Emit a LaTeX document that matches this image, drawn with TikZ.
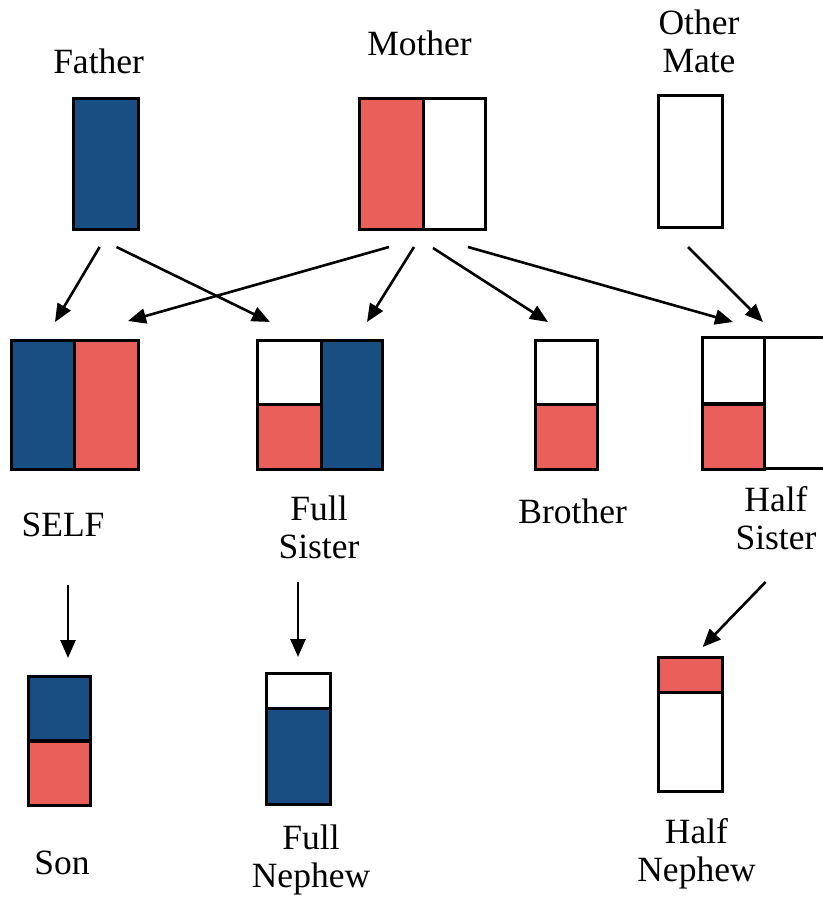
\documentclass[tikz,border=0pt]{standalone}
\usepackage{fontspec}
\setmainfont{Liberation Serif}
\usetikzlibrary{arrows.meta}
\definecolor{blu}{HTML}{184E82}
\definecolor{rd}{HTML}{EB5F5A}
\tikzset{
  part/.style={draw=black, line width=3pt, inner sep=0pt, outer sep=0pt, rectangle},
  lbl/.style={font=\fontsize{35.5}{38}\selectfont, align=center, inner sep=0pt},
  arr/.style={line width=2.6pt, -{Triangle[length=18pt,width=15pt]}},
}
\begin{document}
\begin{tikzpicture}[x=1pt,y=-1pt]
\useasboundingbox (0,0) rectangle (822,899);
% labels
\node[lbl] (lfather) at (98.6,61) {Father};
\node[lbl] (lmother) at (419.5,43) {Mother};
\node[lbl] (lother) at (699,41) {Other\\Mate};
\node[lbl] (lself) at (63,525) {SELF};
\node[lbl] (lfs) at (319,527) {Full\\Sister};
\node[lbl] (lbro) at (572.6,511) {Brother};
\node[lbl] (lhs) at (776,518) {Half\\Sister};
\node[lbl] (lson) at (62,863) {Son};
\node[lbl] (lfn) at (311,860) {Full\\Nephew};
\node[lbl] (lhn) at (696.5,854) {Half\\Nephew};
% row 1
\node[part, fill=blu, minimum width=65, minimum height=131] (father) at (105.9,163.5) {};
\node[part, fill=rd, minimum width=64, minimum height=131] (motherL) at (391,163.5) {};
\node[part, fill=white, minimum width=62, minimum height=131] (motherR) at (454,163.5) {};
\node[part, fill=white, minimum width=64.6, minimum height=131.6] (other) at (690.3,161.5) {};
% row 2
\node[part, fill=blu, minimum width=63, minimum height=129] (selfL) at (43,404.5) {};
\node[part, fill=rd, minimum width=64, minimum height=129] (selfR) at (106.5,404.5) {};
\node[part, fill=white, minimum width=64, minimum height=64] (fsTop) at (289.5,372) {};
\node[part, fill=rd, minimum width=64, minimum height=65] (fsBot) at (289.5,436.5) {};
\node[part, fill=blu, minimum width=61.5, minimum height=129] (fsR) at (352.2,404.5) {};
\node[part, fill=white, minimum width=61.6, minimum height=64] (broTop) at (566.2,372) {};
\node[part, fill=rd, minimum width=61.6, minimum height=65] (broBot) at (566.2,436.5) {};
\node[part, fill=white, minimum width=61.8, minimum height=66.3] (hsTop) at (733.6,370.8) {};
\node[part, fill=rd, minimum width=61.8, minimum height=65] (hsBot) at (733.6,436.5) {};
\node[part, fill=white, minimum width=70, minimum height=131.3] (hsR) at (799.5,403.3) {};
% row 3
\node[part, fill=blu, minimum width=62, minimum height=64.3] (sonTop) at (59.3,708.8) {};
\node[part, fill=rd, minimum width=62, minimum height=64] (sonBot) at (59.3,773) {};
\node[part, fill=white, minimum width=64, minimum height=35] (fnTop) at (298,691.2) {};
\node[part, fill=blu, minimum width=64, minimum height=96.3] (fnBot) at (298,756.8) {};
\node[part, fill=rd, minimum width=64.6, minimum height=35] (hnTop) at (690.3,675.2) {};
\node[part, fill=white, minimum width=64.6, minimum height=99] (hnBot) at (690.3,742.2) {};
% arrow end points
\coordinate (a1s) at (99.6,247);  \coordinate (a1e) at (55,322);
\coordinate (a2s) at (116.5,247); \coordinate (a2e) at (270,322);
\coordinate (a3s) at (389,247);   \coordinate (a3e) at (128,321);
\coordinate (a4s) at (414,247);   \coordinate (a4e) at (367,322);
\coordinate (a5s) at (433,248);   \coordinate (a5e) at (548,322);
\coordinate (a6s) at (468,247);   \coordinate (a6e) at (733,322);
\coordinate (a7s) at (688,247);   \coordinate (a7e) at (763,322);
\coordinate (b1s) at (68,585);    \coordinate (b1e) at (68,658);
\coordinate (b2s) at (298,582);   \coordinate (b2e) at (298,657);
\coordinate (b3s) at (765.6,582); \coordinate (b3e) at (702.7,647);
\draw[arr] (a1s) -- (a1e);
\draw[arr] (a2s) -- (a2e);
\draw[arr] (a3s) -- (a3e);
\draw[arr] (a4s) -- (a4e);
\draw[arr] (a5s) -- (a5e);
\draw[arr] (a6s) -- (a6e);
\draw[arr] (a7s) -- (a7e);
\draw[arr] (b1s) -- (b1e);
\draw[arr] (b2s) -- (b2e);
\draw[arr] (b3s) -- (b3e);
\end{tikzpicture}
\end{document}
